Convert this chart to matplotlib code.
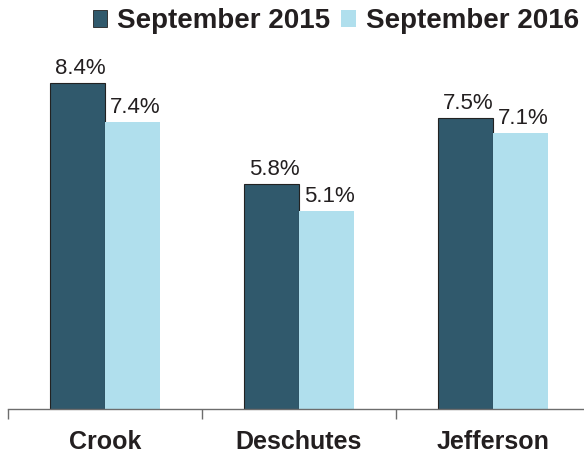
import numpy as np
import matplotlib
matplotlib.use("Agg")
import matplotlib.pyplot as plt
from matplotlib.patches import Patch

# data
counties = ["Crook", "Deschutes", "Jefferson"]
sep_2015 = [8.4, 5.8, 7.5]
sep_2016 = [7.4, 5.1, 7.1]
series_names = ["September 2015", "September 2016"]

dark = "#30596C"
light = "#B0DFED"
txt = "#231F20"

plt.rcParams["font.family"] = ["Liberation Sans", "DejaVu Sans"]

fig = plt.figure(figsize=(5.84, 4.55), dpi=100)
ax = fig.add_axes([8 / 584, 46 / 455, 582 / 584, 409 / 455])

x = np.arange(len(counties))
w = 0.286
b1 = ax.bar(x - w / 2, sep_2015, w, color=dark, edgecolor="#222222", linewidth=0.8)
b2 = ax.bar(x + w / 2, sep_2016, w, color=light, linewidth=0)

for bars, vals in [(b1, sep_2015), (b2, sep_2016)]:
    for r, v in zip(bars, vals):
        ax.annotate(f"{v:.1f}%", (r.get_x() + r.get_width() / 2, r.get_height()),
                    xytext=(2, 3), textcoords="offset points",
                    ha="center", va="bottom", fontsize=16, color=txt)

ax.set_xlim(-0.5, 2.5)
ax.set_ylim(0, 10.54)
ax.set_yticks([])
for s in ["top", "right", "left"]:
    ax.spines[s].set_visible(False)
ax.spines["bottom"].set_color("#6d6d6d")
ax.spines["bottom"].set_linewidth(1.0)

# ticks at category boundaries, labels in the middle
ax.set_xticks([-0.5, 0.5, 1.5, 2.5])
ax.set_xticklabels([])
ax.tick_params(axis="x", which="major", direction="out", length=7, color="#6d6d6d", width=1.0)
ax.set_xticks(x, minor=True)
ax.set_xticklabels(counties, minor=True, fontsize=18, fontweight="bold", color=txt)
ax.tick_params(axis="x", which="minor", length=0, pad=15)

handles = [Patch(facecolor=dark, edgecolor="#222222", linewidth=0.6),
           Patch(facecolor=light, linewidth=0)]
fig.legend(handles, series_names, loc="upper right", bbox_to_anchor=(587 / 584, 1.0),
           ncol=2, frameon=False, borderpad=0.3, borderaxespad=0,
           handlelength=0.52, handleheight=0.52, handletextpad=0.35, columnspacing=0.4,
           prop={"size": 20, "weight": "bold"}, labelcolor=txt)

fig.savefig("out.png", dpi=100)
